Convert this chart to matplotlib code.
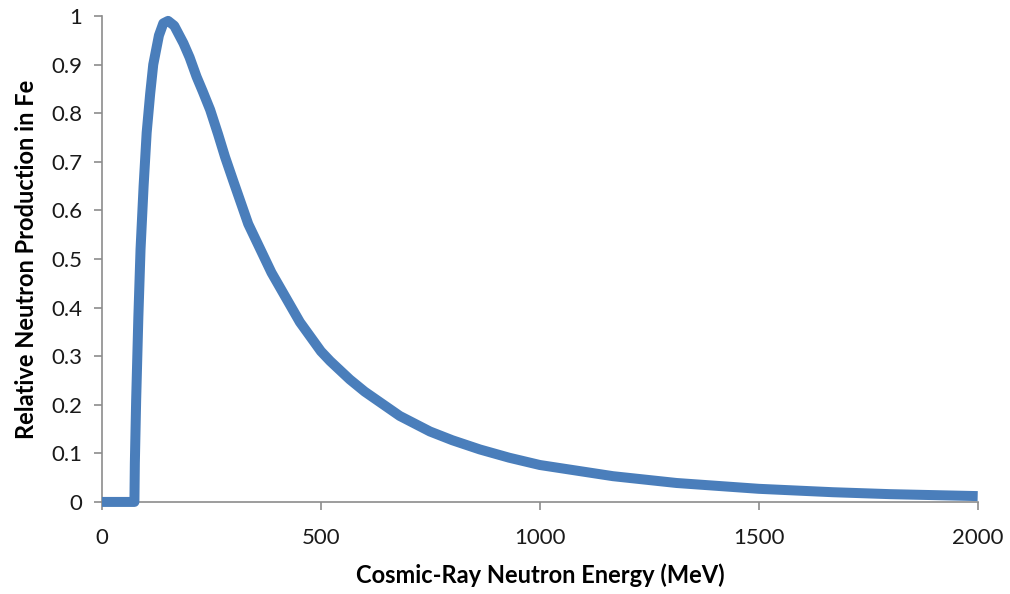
import matplotlib
matplotlib.use('Agg')
import matplotlib.pyplot as plt

# Datos: energia (MeV) y produccion relativa de neutrones en Fe
energia = [0, 74, 75, 78, 83, 88, 95, 102, 110, 117, 130, 140, 151, 165, 186,
           200, 216, 230, 247, 265, 281, 300, 334, 387, 452, 500, 521, 566,
           600, 680, 749, 800, 863, 930, 1000, 1167, 1312, 1500, 1669, 1800,
           2000]
produccion = [0, 0, 0.08, 0.21, 0.38, 0.52, 0.65, 0.76, 0.84, 0.90, 0.96,
              0.985, 0.99, 0.98, 0.944, 0.915, 0.875, 0.845, 0.807, 0.757,
              0.71, 0.66, 0.572, 0.472, 0.37, 0.31, 0.29, 0.252, 0.227, 0.177,
              0.145, 0.127, 0.108, 0.091, 0.076, 0.053, 0.039, 0.027, 0.020,
              0.016, 0.012]

xticks = [0, 500, 1000, 1500, 2000]
yticks = [0, 0.1, 0.2, 0.3, 0.4, 0.5, 0.6, 0.7, 0.8, 0.9, 1]
ytick_labels = ['0', '0.1', '0.2', '0.3', '0.4', '0.5', '0.6', '0.7', '0.8', '0.9', '1']

plt.rcParams['font.family'] = ['Lato', 'DejaVu Sans']

fig = plt.figure(figsize=(10.1, 5.94), dpi=100)
ax = fig.add_axes([0.101, 0.155, 0.867, 0.818])

ax.plot(energia, produccion, color='#4A7EBB', lw=7.2, solid_joinstyle='round',
        solid_capstyle='butt', clip_on=False, zorder=3)

ax.set_xlim(0, 2000)
ax.set_ylim(0, 1)
ax.set_xticks(xticks)
ax.set_yticks(yticks)
ax.set_yticklabels(ytick_labels)

for s in ['top', 'right']:
    ax.spines[s].set_visible(False)
for s in ['left', 'bottom']:
    ax.spines[s].set_color('#8C8C8C')
    ax.spines[s].set_linewidth(1.2)
ax.tick_params(direction='out', length=6, width=1.2, color='#8C8C8C',
               labelsize=16, labelcolor='#1A1A1A')
ax.tick_params(axis='x', pad=13)
ax.tick_params(axis='y', pad=8)

ax.set_xlabel('Cosmic-Ray Neutron Energy (MeV)', fontsize=17, fontweight='bold',
              labelpad=11)
ax.set_ylabel('Relative Neutron Production in Fe', fontsize=17, fontweight='bold',
              labelpad=10)

fig.savefig('out.png', dpi=100)
